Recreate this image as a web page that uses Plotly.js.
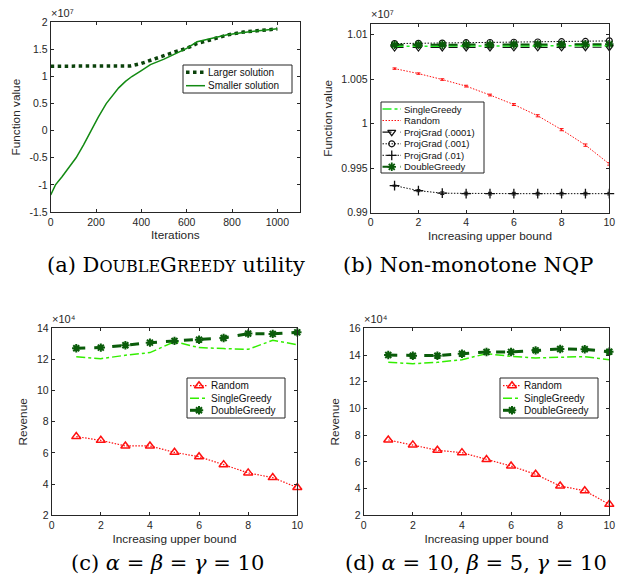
<!DOCTYPE html>
<html><head><meta charset="utf-8">
<script src="https://cdn.plot.ly/plotly-3.0.1.min.js"></script>
<style>html,body{margin:0;padding:0;background:#fff}#chart{width:624px;height:581px}</style>
</head><body><div id="chart"></div><script>
// ---------- (a) DoubleGreedy utility (values x 1e7) ----------
const iterLarger = [0, 100, 200, 300, 351, 400, 440, 500, 542, 600, 646, 700, 779, 850, 897, 950, 1000];
const largerSol  = [1.19, 1.19, 1.19, 1.19, 1.195, 1.24, 1.30, 1.38, 1.446, 1.52, 1.61, 1.67, 1.766, 1.82, 1.845, 1.86, 1.876];
const iterSmaller = [0, 10, 21, 50, 80, 112, 145, 177, 210, 245, 275, 300, 330, 358, 400, 440, 500, 542, 600, 646, 700, 779, 850, 897, 950, 1000];
const smallerSol  = [-1.186, -1.09, -1.0, -0.85, -0.68, -0.5, -0.26, 0.0, 0.25, 0.5, 0.67, 0.79, 0.91, 1.0, 1.11, 1.22, 1.32, 1.41, 1.52, 1.64, 1.69, 1.77, 1.81, 1.84, 1.86, 1.88];
const aXTicks = [0, 200, 400, 600, 800, 1000];
const aXText  = ['0', '200', '400', '600', '800', '1000'];
const aYTicks = [-1.5, -1, -0.5, 0, 0.5, 1, 1.5, 2];
const aYText  = ['-1.5', '-1', '-0.5', '0', '0.5', '1', '1.5', '2'];

// ---------- (b) Non-monotone NQP (values x 1e7) ----------
const upperBound = [1, 2, 3, 4, 5, 6, 7, 8, 9, 10];
const bSingleGreedy = [1.00870, 1.00871, 1.00872, 1.00872, 1.00873, 1.00873, 1.00874, 1.00874, 1.00875, 1.00876];
const bRandom       = [1.00619, 1.00563, 1.00496, 1.00422, 1.00322, 1.00215, 1.00089, 0.99933, 0.99759, 0.99548];
const bRandomErr    = [0.00008, 0.00008, 0.00009, 0.00010, 0.00010, 0.00011, 0.00012, 0.00012, 0.00013, 0.00014];
const bProjGrad0001 = [1.00856, 1.00856, 1.00857, 1.00857, 1.00857, 1.00858, 1.00858, 1.00858, 1.00859, 1.00859];
const bProjGrad001  = [1.00900, 1.00903, 1.00905, 1.00910, 1.00912, 1.00915, 1.00918, 1.00921, 1.00924, 1.00930];
const bProjGrad01   = [0.99304, 0.99248, 0.99219, 0.99215, 0.99214, 0.99214, 0.99214, 0.99214, 0.99214, 0.99214];
const bProjGrad01Err= [0.00006, 0.00012, 0.00015, 0.00015, 0.00015, 0.00015, 0.00015, 0.00015, 0.00015, 0.00015];
const bDoubleGreedy = [1.00886, 1.00887, 1.00887, 1.00889, 1.00889, 1.00890, 1.00891, 1.00891, 1.00892, 1.00893];
const bYTicks = [0.99, 0.995, 1, 1.005, 1.01];
const bYText  = ['0.99', '0.995', '1', '1.005', '1.01'];
const ubTicks = [0, 2, 4, 6, 8, 10];
const ubText  = ['0', '2', '4', '6', '8', '10'];

// ---------- (c) alpha=beta=gamma=10 (revenue x 1e4) ----------
const cRandom       = [7.05, 6.81, 6.45, 6.45, 6.04, 5.76, 5.25, 4.72, 4.42, 3.78];
const cSingleGreedy = [12.18, 12.05, 12.27, 12.44, 13.14, 12.76, 12.70, 12.65, 13.23, 12.95];
const cDoubleGreedy = [12.72, 12.76, 12.91, 13.08, 13.19, 13.27, 13.38, 13.66, 13.64, 13.74];
const cYTicks = [2, 4, 6, 8, 10, 12, 14];
const cYText  = ['2', '4', '6', '8', '10', '12', '14'];

// ---------- (d) alpha=10, beta=5, gamma=10 (revenue x 1e4) ----------
const dRandom       = [7.64, 7.27, 6.87, 6.69, 6.17, 5.69, 5.07, 4.19, 3.84, 2.82];
const dSingleGreedy = [13.45, 13.35, 13.45, 13.65, 14.10, 13.90, 13.78, 13.83, 13.88, 13.65];
const dDoubleGreedy = [14.00, 13.95, 13.95, 14.10, 14.23, 14.23, 14.35, 14.45, 14.43, 14.25];
const dYTicks = [2, 4, 6, 8, 10, 12, 14, 16];
const dYText  = ['2', '4', '6', '8', '10', '12', '14', '16'];

// ---------- styling ----------
const W = 624, H = 581;
const FONT = 'Liberation Sans';
const SERIF = 'DejaVu Serif';
const AXC = '#262626';
const fx = p => p / W;
const fy = p => 1 - p / H;

const S = {
  larger:  {mode:'lines', line:{color:'#0b420b', width:3.5, dash:'dot'}},
  smaller: {mode:'lines', line:{color:'#138a13', width:1.5}},
  bSingle: {mode:'lines', line:{color:'#22ee22', width:1.5, dash:'dashdot'}},
  bRandom: {mode:'lines', line:{color:'#ff1010', width:1, dash:'1.5px,1.5px'}},
  pg0001:  {mode:'lines+markers', line:{color:'#111', width:1.2, dash:'dash'}, marker:{symbol:'triangle-down-open', size:7, color:'#111', line:{width:1.2}}},
  pg001:   {mode:'lines+markers', line:{color:'#111', width:1, dash:'1.5px,1.5px'}, marker:{symbol:'circle-open', size:6, color:'#111', line:{width:1.2}}},
  pg01:    {mode:'lines+markers', line:{color:'#111', width:1, dash:'1.5px,1.5px'}, marker:{symbol:'cross-thin-open', size:7, color:'#111', line:{width:1.3}}},
  bDouble: {mode:'lines+markers', line:{color:'#0a5a0a', width:2, dash:'dash'}, marker:{symbol:'asterisk-open', size:7, color:'#0a5a0a', line:{width:1.8}}},
  rnd:     {mode:'lines+markers', line:{color:'#ff1010', width:1.2, dash:'1.5px,1.5px'}, marker:{symbol:'triangle-up-open', size:8, color:'#ff1010', line:{width:1.5}}},
  sg:      {mode:'lines', line:{color:'#33ee00', width:1.5, dash:'dashdot'}},
  dg:      {mode:'lines+markers', line:{color:'#0a5c0a', width:3, dash:'dash'}, marker:{symbol:'asterisk-open', size:7, color:'#0a5c0a', line:{width:2}}}
};

function tr(style, x, y, ax, name, err) {
  const t = Object.assign({type:'scatter', x:x, y:y, xaxis:'x'+ax, yaxis:'y'+ax, name:name, showlegend:false, hoverinfo:'skip', cliponaxis:false}, JSON.parse(JSON.stringify(style)));
  if (err) t.error_y = {type:'data', array:err.arr, visible:true, color:err.color, thickness:1, width:2};
  return t;
}

const data = [
  tr(S.larger, iterLarger, largerSol, '', 'Larger solution'),
  tr(S.smaller, iterSmaller, smallerSol, '', 'Smaller solution'),

  tr(S.pg01, upperBound, bProjGrad01, '2', 'ProjGrad (.01)', {arr:bProjGrad01Err, color:'#111'}),
  tr(S.bRandom, upperBound, bRandom, '2', 'Random', {arr:bRandomErr, color:'#ff1010'}),
  tr(S.pg001, upperBound, bProjGrad001, '2', 'ProjGrad (.001)'),
  tr(S.pg0001, upperBound, bProjGrad0001, '2', 'ProjGrad (.0001)'),
  tr(S.bSingle, upperBound, bSingleGreedy, '2', 'SingleGreedy'),
  tr(S.bDouble, upperBound, bDoubleGreedy, '2', 'DoubleGreedy'),

  tr(S.rnd, upperBound, cRandom, '3', 'Random'),
  tr(S.sg, upperBound, cSingleGreedy, '3', 'SingleGreedy'),
  tr(S.dg, upperBound, cDoubleGreedy, '3', 'DoubleGreedy'),

  tr(S.rnd, upperBound, dRandom, '4', 'Random'),
  tr(S.sg, upperBound, dSingleGreedy, '4', 'SingleGreedy'),
  tr(S.dg, upperBound, dDoubleGreedy, '4', 'DoubleGreedy')
];

function xAx(l, r, anchor, range, vals, texts, title) {
  return {domain:[fx(l), fx(r)], anchor:anchor, range:range, tickvals:vals, ticktext:texts,
    ticks:'inside', ticklen:3, tickcolor:AXC, showline:true, linecolor:AXC, linewidth:1, mirror:'ticks',
    showgrid:false, zeroline:false, fixedrange:true,
    tickfont:{family:FONT, size:10.5, color:AXC},
    title:{text:title, font:{family:FONT, size:11.8, color:AXC}, standoff:4}};
}
function yAx(b, t, anchor, range, vals, texts, title) {
  return {domain:[fy(b), fy(t)], anchor:anchor, range:range, tickvals:vals, ticktext:texts,
    ticks:'inside', ticklen:3, tickcolor:AXC, showline:true, linecolor:AXC, linewidth:1, mirror:'ticks',
    showgrid:false, zeroline:false, fixedrange:true,
    tickfont:{family:FONT, size:10.5, color:AXC},
    title:{text:title, font:{family:FONT, size:11.8, color:AXC}, standoff:6}};
}

const layout = {
  width:W, height:H, margin:{l:0, r:0, t:0, b:0},
  paper_bgcolor:'#ffffff', plot_bgcolor:'rgba(0,0,0,0)', showlegend:false,
  font:{family:FONT, color:AXC},
  xaxis:  xAx(50.7, 300, 'y', [0, 1100], aXTicks, aXText, 'Iterations'),
  yaxis:  yAx(212, 22.3, 'x', [-1.5, 2], aYTicks, aYText, 'Function value'),
  xaxis2: xAx(370.7, 609.3, 'y2', [0, 10], ubTicks, ubText, 'Increasing upper bound'),
  yaxis2: yAx(212.7, 24, 'x2', [0.99, 1.0112], bYTicks, bYText, 'Function value'),
  xaxis3: xAx(51.7, 297.3, 'y3', [0, 10], ubTicks, ubText, 'Increasing upper bound'),
  yaxis3: yAx(515.3, 328.3, 'x3', [2, 14], cYTicks, cYText, 'Revenue'),
  xaxis4: xAx(363.7, 609.3, 'y4', [0, 10], ubTicks, ubText, 'Increasing upper bound'),
  yaxis4: yAx(515.3, 328.3, 'x4', [2, 16], dYTicks, dYText, 'Revenue'),
  // pixel-coordinate overlay used only for legend glyphs
  xaxis5: {domain:[0,1], anchor:'y5', range:[0, W], visible:false, fixedrange:true},
  yaxis5: {domain:[0,1], anchor:'x5', range:[H, 0], visible:false, fixedrange:true},
  shapes:[], annotations:[]
};

// exponent labels (unicode superscripts)
function expo(x, y, txt) {
  layout.annotations.push({xref:'paper', yref:'paper', x:fx(x), y:fy(y), xanchor:'left', yanchor:'bottom',
    text:txt, showarrow:false, font:{family:FONT, size:11, color:AXC}});
}
expo(49, 21, '×10⁷'); expo(369, 22, '×10⁷'); expo(50, 327, '×10⁴'); expo(362, 327, '×10⁴');

// legends
function legend(box, sx0, sx1, tx, rows, styles, names, fsize) {
  layout.shapes.push({type:'rect', xref:'paper', yref:'paper', x0:fx(box[0]), x1:fx(box[2]), y0:fy(box[1]), y1:fy(box[3]),
    line:{color:AXC, width:1}, fillcolor:'#ffffff', layer:'below'});
  styles.forEach((st, i) => {
    const yc = rows[i];
    data.push({type:'scatter', mode:'lines', x:[sx0, sx1], y:[yc, yc], xaxis:'x5', yaxis:'y5', showlegend:false, hoverinfo:'skip', cliponaxis:false,
      line:JSON.parse(JSON.stringify(st.line))});
    if (st.marker) {
      data.push({type:'scatter', mode:'markers', x:[(sx0 + sx1) / 2], y:[yc], xaxis:'x5', yaxis:'y5', showlegend:false, hoverinfo:'skip', cliponaxis:false,
        marker:JSON.parse(JSON.stringify(st.marker))});
    }
    layout.annotations.push({xref:'paper', yref:'paper', x:fx(tx), y:fy(yc), xanchor:'left', yanchor:'middle',
      text:names[i], showarrow:false, font:{family:FONT, size:fsize, color:'#111'}});
  });
}
legend([183, 65, 292, 93], 186, 205, 206, [72.3, 85.7], [S.larger, S.smaller], ['Larger solution', 'Smaller solution'], 10);
legend([381, 102, 484, 173], 382.5, 401, 401.5, [109, 120.5, 132.2, 143.8, 155.3, 166.8],
  [S.bSingle, S.bRandom, S.pg0001, S.pg001, S.pg01, S.bDouble],
  ['SingleGreedy', 'Random', 'ProjGrad (.0001)', 'ProjGrad (.001)', 'ProjGrad (.01)', 'DoubleGreedy'], 9.5);
legend([187, 378, 285, 418], 190, 208, 209, [385.7, 398.3, 410.3], [S.rnd, S.sg, S.dg], ['Random', 'SingleGreedy', 'DoubleGreedy'], 10);
legend([500, 378, 598, 418], 503, 521, 522, [385.7, 398.3, 410.3], [S.rnd, S.sg, S.dg], ['Random', 'SingleGreedy', 'DoubleGreedy'], 10);

// sub-figure captions
const SC = 'font-size:16px';
function caption(x, y, text) {
  layout.annotations.push({xref:'paper', yref:'paper', x:fx(x), y:fy(y), xanchor:'center', yanchor:'middle',
    text:text, showarrow:false, font:{family:SERIF, size:21, color:'#000'}});
}
caption(176, 265, '(a) D<span style="' + SC + '">OUBLE</span>G<span style="' + SC + '">REEDY</span> utility');
caption(468, 265, '(b) Non-monotone NQP');
caption(167, 563, '(c) <i>α</i> = <i>β</i> = <i>γ</i> = 10');
caption(476, 563, '(d) <i>α</i> = 10, <i>β</i> = 5, <i>γ</i> = 10');

Plotly.newPlot('chart', data, layout, {staticPlot:true, displayModeBar:false});
</script></body></html>
